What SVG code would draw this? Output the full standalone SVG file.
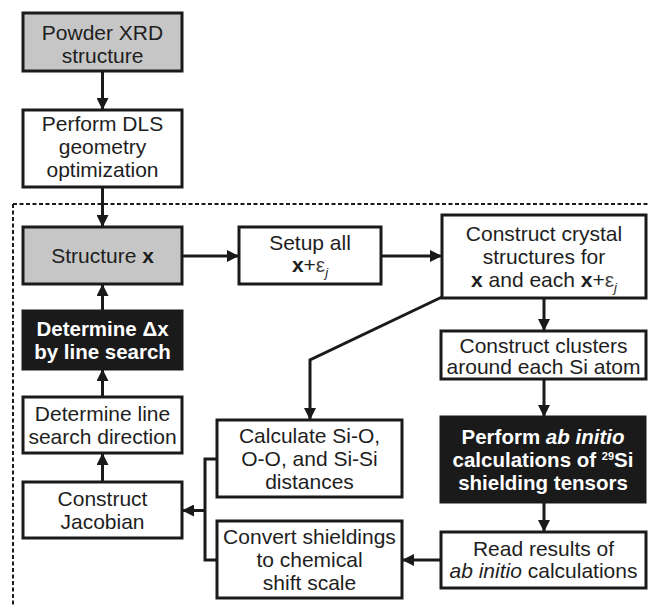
<svg xmlns="http://www.w3.org/2000/svg" width="648" height="605" viewBox="0 0 648 605">
<style>
.box{fill:#ffffff;stroke:#1a1a1a;stroke-width:3}
.gray{fill:#c6c6c6}
.dark{fill:#1a1a1a}
.t{font-family:"Liberation Sans",Arial,sans-serif;font-size:21px;fill:#1e1e1e;text-anchor:middle}
.w{fill:#ffffff;font-weight:bold;font-size:20.5px}
.b{font-weight:bold}
.i{font-style:italic}
.con{fill:none;stroke:#1a1a1a;stroke-width:3}
.dash{fill:none;stroke:#1a1a1a;stroke-width:2;stroke-dasharray:4 2.5}
</style>
<defs>
<marker id="ah" markerUnits="userSpaceOnUse" markerWidth="12" markerHeight="12" viewBox="0 0 12 12" refX="12" refY="6" orient="auto">
<path d="M0,0 L12,6 L0,12 z" fill="#1a1a1a"/>
</marker>
</defs>
<g id="boundary">
<path class="dash" d="M13,204 H648 M13,204 V605"/>
</g>
<g id="connectors">
<path class="con" d="M102.5,71 V110" marker-end="url(#ah)"/>
<path class="con" d="M102.5,187 V227" marker-end="url(#ah)"/>
<path class="con" d="M102.5,311 V284" marker-end="url(#ah)"/>
<path class="con" d="M102.5,397 V369" marker-end="url(#ah)"/>
<path class="con" d="M102.5,482 V453" marker-end="url(#ah)"/>
<path class="con" d="M182,256 H239" marker-end="url(#ah)"/>
<path class="con" d="M381,256 H442" marker-end="url(#ah)"/>
<path class="con" d="M544,298 V331" marker-end="url(#ah)"/>
<path class="con" d="M544,379 V417" marker-end="url(#ah)"/>
<path class="con" d="M544,502 V532" marker-end="url(#ah)"/>
<path class="con" d="M441,560 H402" marker-end="url(#ah)"/>
<path class="con" d="M442,297 L310,360 V420" marker-end="url(#ah)"/>
<path class="con" d="M217,459 H205 V560 H217"/>
<path class="con" d="M205,510.5 H182" marker-end="url(#ah)"/>
</g>
<g id="powder">
<rect class="box gray" x="23" y="13" width="159" height="58"/>
<text class="t" x="102.5" y="39.5">Powder XRD</text>
<text class="t" x="102.5" y="62.5">structure</text>
</g>
<g id="dls">
<rect class="box" x="23" y="110" width="159" height="77"/>
<text class="t" x="102.5" y="131">Perform DLS</text>
<text class="t" x="102.5" y="154">geometry</text>
<text class="t" x="102.5" y="177">optimization</text>
</g>
<g id="structure">
<rect class="box gray" x="23" y="227" width="159" height="57"/>
<text class="t" x="102.5" y="263">Structure <tspan class="b">x</tspan></text>
</g>
<g id="linesearch">
<rect class="box dark" x="23" y="311" width="159" height="58"/>
<text class="t w" x="102.5" y="335.5">Determine Δx</text>
<text class="t w" x="102.5" y="358.5">by line search</text>
</g>
<g id="direction">
<rect class="box" x="23" y="397" width="159" height="56"/>
<text class="t" x="102.5" y="421">Determine line</text>
<text class="t" x="102.5" y="443.5">search direction</text>
</g>
<g id="jacobian">
<rect class="box" x="23" y="482" width="159" height="56"/>
<text class="t" x="102.5" y="506">Construct</text>
<text class="t" x="102.5" y="528.5">Jacobian</text>
</g>
<g id="setup">
<rect class="box" x="239" y="227" width="142" height="57"/>
<text class="t" x="310" y="249.5">Setup all</text>
<text class="t" x="310" y="272"><tspan class="b">x</tspan>+<tspan fill="#444">ε</tspan><tspan class="i" font-size="13" baseline-shift="-5">j</tspan></text>
</g>
<g id="crystal">
<rect class="box" x="442" y="215" width="204" height="83"/>
<text class="t" x="544" y="240.5">Construct crystal</text>
<text class="t" x="544" y="264">structures for</text>
<text class="t" x="544" y="287"><tspan class="b">x</tspan> and each <tspan class="b">x</tspan>+<tspan fill="#444">ε</tspan><tspan class="i" font-size="13" baseline-shift="-5">j</tspan></text>
</g>
<g id="clusters">
<rect class="box" x="441" y="331" width="205" height="48"/>
<text class="t" x="543.5" y="352.5">Construct clusters</text>
<text class="t" x="543.5" y="374">around each Si atom</text>
</g>
<g id="abinitio">
<rect class="box dark" x="441" y="417" width="204" height="85"/>
<text class="t w" x="543" y="443.5">Perform <tspan class="i">ab initio</tspan></text>
<text class="t w" x="543" y="466.5">calculations of <tspan font-size="11" baseline-shift="7">29</tspan>Si</text>
<text class="t w" x="543" y="489.5">shielding tensors</text>
</g>
<g id="read">
<rect class="box" x="441" y="532" width="205" height="56"/>
<text class="t" x="543.5" y="555.5">Read results of</text>
<text class="t" x="543.5" y="578"><tspan class="i">ab initio</tspan> calculations</text>
</g>
<g id="distances">
<rect class="box" x="217" y="420" width="185" height="77"/>
<text class="t" x="309.5" y="443">Calculate Si-O,</text>
<text class="t" x="309.5" y="466">O-O, and Si-Si</text>
<text class="t" x="309.5" y="489">distances</text>
</g>
<g id="convert">
<rect class="box" x="217" y="521" width="185" height="77"/>
<text class="t" x="309.5" y="543.5">Convert shieldings</text>
<text class="t" x="309.5" y="567">to chemical</text>
<text class="t" x="309.5" y="590">shift scale</text>
</g>
</svg>
